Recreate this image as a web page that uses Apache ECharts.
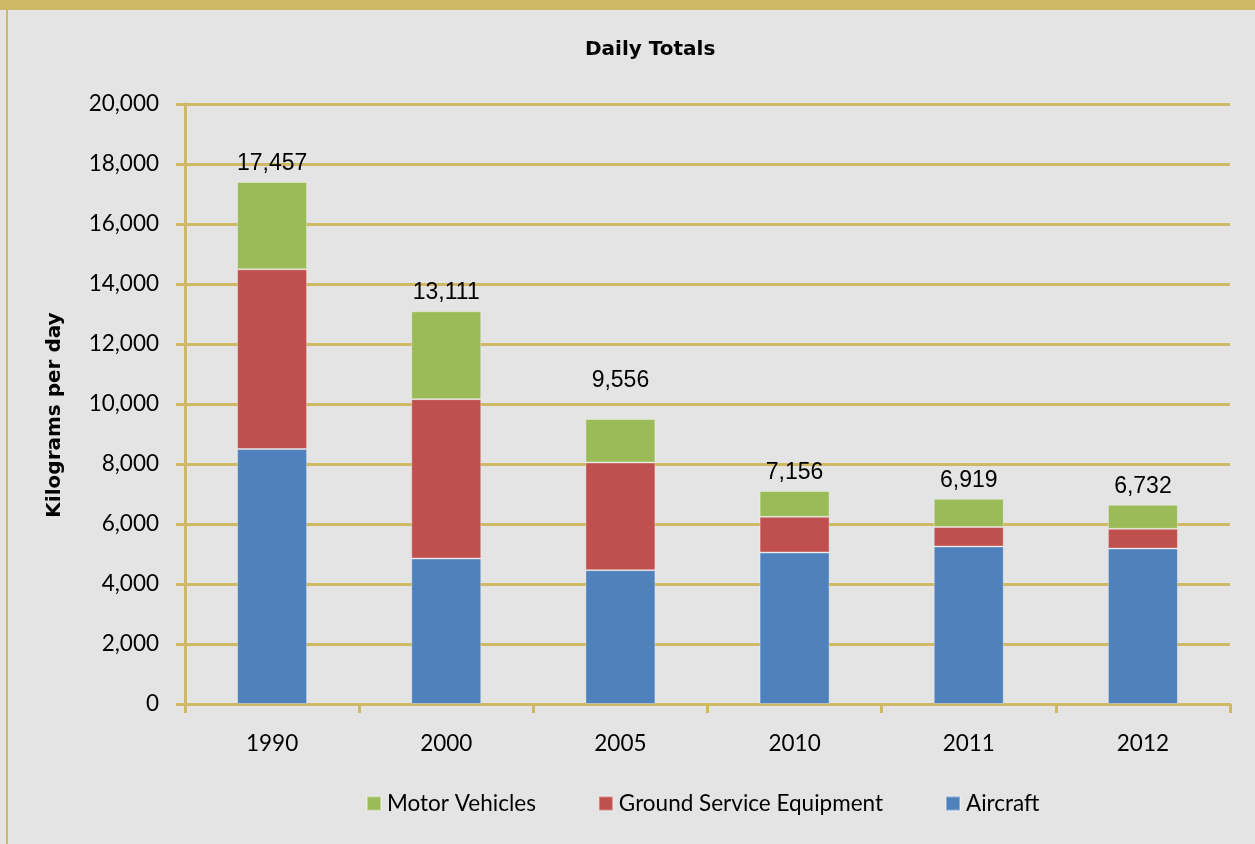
<!DOCTYPE html>
<html>
<head>
<meta charset="utf-8">
<script src="https://cdn.jsdelivr.net/npm/echarts@6/dist/echarts.min.js"></script>
<style>
  html, body { margin: 0; padding: 0; background: #e4e4e4; }
  #chart { width: 1255px; height: 844px; }
</style>
</head>
<body>
<div id="chart"></div>
<script>
// 数据
const years = ['1990', '2000', '2005', '2010', '2011', '2012'];
const aircraft = [8500, 4850, 4460, 5050, 5250, 5180];
const groundEquip = [5990, 5310, 3590, 1190, 650, 660];
const motorVehicles = [2910, 2930, 1450, 860, 940, 800];
const totals = [17457, 13111, 9556, 7156, 6919, 6732];

const gold = '#cfb964';
const chart = echarts.init(document.getElementById('chart'));

const barBorder = {borderColor: 'rgba(255,255,255,0.35)', borderWidth: 1};

const option = {
  backgroundColor: '#e4e4e4',
  animation: false,
  title: {
    text: 'Daily Totals',
    left: 580,
    top: 35,
    textStyle: {color: '#000', fontFamily: 'DejaVu Sans', fontWeight: 'bold', fontSize: 20}
  },
  graphic: [
    {type: 'rect', shape: {x: 0, y: 0, width: 1255, height: 10}, style: {fill: gold}},
    {type: 'rect', shape: {x: 6, y: 0, width: 2, height: 844}, style: {fill: gold}}
  ],
  legend: {
    top: 787,
    left: 361,
    itemWidth: 14,
    itemHeight: 14,
    itemGap: 62,
    icon: 'rect',
    data: ['Motor Vehicles', 'Ground Service Equipment', 'Aircraft'],
    textStyle: {color: '#000', fontFamily: 'Lato', fontSize: 22.5, padding: [0, 0, 0, 1]}
  },
  grid: {left: 185, right: 25, top: 104, bottom: 140},
  xAxis: {
    type: 'category',
    data: years,
    axisLine: {lineStyle: {color: gold, width: 3}},
    axisTick: {show: true, length: 9, lineStyle: {color: gold, width: 3}},
    axisLabel: {color: '#000', fontFamily: 'Lato', fontSize: 22.5, margin: 28}
  },
  yAxis: {
    type: 'value',
    min: 0,
    max: 20000,
    interval: 2000,
    name: 'Kilograms per day',
    nameLocation: 'middle',
    nameGap: 120,
    nameTextStyle: {
      color: '#000', fontFamily: 'DejaVu Sans', fontWeight: 'bold', fontSize: 20,
      padding: [0, 22, 0, 0]
    },
    axisLine: {show: true, lineStyle: {color: gold, width: 3}},
    axisTick: {show: true, length: 9, lineStyle: {color: gold, width: 3}},
    splitLine: {lineStyle: {color: gold, width: 3}},
    axisLabel: {
      color: '#000', fontFamily: 'Lato', fontSize: 22.5, margin: 26,
      formatter: v => v.toLocaleString('en-US')
    }
  },
  series: [
    {
      name: 'Aircraft', type: 'bar', stack: 'total', barWidth: 70,
      itemStyle: Object.assign({color: '#4f81bd'}, barBorder),
      data: aircraft
    },
    {
      name: 'Ground Service Equipment', type: 'bar', stack: 'total',
      itemStyle: Object.assign({color: '#c0504d'}, barBorder),
      data: groundEquip
    },
    {
      name: 'Motor Vehicles', type: 'bar', stack: 'total',
      itemStyle: Object.assign({color: '#9bbb59'}, barBorder),
      data: motorVehicles.map((v, i) => ({
        value: v,
        label: {offset: [0, i === 2 ? -20 : 0]}
      })),
      label: {
        show: true,
        position: 'top',
        distance: 7,
        color: '#000',
        fontFamily: 'Liberation Sans',
        fontSize: 23,
        formatter: p => totals[p.dataIndex].toLocaleString('en-US')
      }
    }
  ]
};
chart.setOption(option);
</script>
</body>
</html>
